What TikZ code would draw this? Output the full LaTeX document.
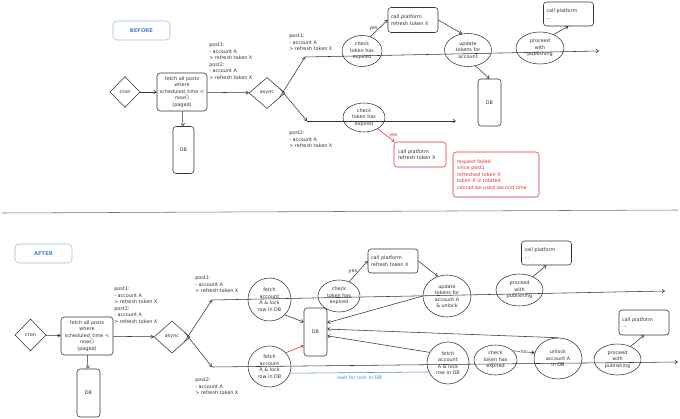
\documentclass[tikz,border=0pt]{standalone}
\usepackage{fontspec}
\setmainfont{DejaVu Sans}
\usetikzlibrary{arrows.meta, positioning, shapes.geometric}
\definecolor{ink}{HTML}{333333}
\definecolor{tagblue}{HTML}{4A7FD0}
\definecolor{tagline}{HTML}{9CBDE6}
\definecolor{errred}{HTML}{E03131}
\definecolor{waitblue}{HTML}{4A8FDB}

\begin{document}
\begin{tikzpicture}[x=1pt, y=-1pt, color=ink, line width=0.55pt,
    every node/.style={font=\fontsize{4.9}{6.5}\selectfont, inner sep=0pt},
    tag/.style={draw=tagline, text=tagblue, rounded corners=4pt, minimum width=57, minimum height=19, font=\fontsize{5.2}{6}\selectfont\bfseries},
    dia/.style={draw, diamond, aspect=1},
    proc/.style={draw, rounded corners=3pt, align=center},
    oval/.style={draw, ellipse, align=center},
    cbox/.style={draw, rounded corners=3pt, align=left, minimum width=50, minimum height=25, text width=44},
    lbl/.style={anchor=north west, align=left},
    arr/.style={-{Straight Barb[length=2.5pt,width=3.5pt]}}]
    \useasboundingbox (0,0) rectangle (680,419);

    \node[tag] (before) at (141.5,30.5) {BEFORE};
    \node[dia, minimum width=30, minimum height=31] (cron1) at (125,92) {cron};
    \node[proc, minimum width=50, minimum height=38] (fetch1) at (182,92) {fetch all posts\\where\\scheduled\_time <\\now()\\(paged)};
    \node[proc, minimum width=21, minimum height=47] (db1) at (183.5,150) {DB};
    \node[lbl] (posts1) at (209,43) {post1:\\- account A\\> refresh token X\\post2:\\- account A\\> refresh token X};
    \node[dia, minimum width=36, minimum height=31] (async1) at (267,93) {async};
    \coordinate (up1) at (305,57);
    \coordinate (upend1) at (599,51);
    \coordinate (down1) at (307,121);
    \coordinate (downend1) at (456,121);
    \node[lbl] (posta1) at (289,34) {post1:\\- account A\\> refresh token X};
    \node[lbl] (postb1) at (289,131) {post2:\\- account A\\> refresh token X};
    \node[oval, minimum width=40, minimum height=31] (check1a) at (362,51) {check\\token has\\expired};
    \node[cbox] (call1a) at (413,20) {call platform\\refresh token X};
    \node[oval, minimum width=47, minimum height=33] (update1) at (468,50) {update\\tokens for\\account};
    \node[proc, minimum width=23, minimum height=47] (db1b) at (489.5,102.5) {DB};
    \node[oval, minimum width=48, minimum height=32] (proceed1) at (540,48) {proceed\\with\\publishing};
    \node[cbox, minimum height=24] (call1b) at (568.5,14) {call platform\\...};
    \node[oval, minimum width=42, minimum height=29] (check1b) at (364,117.5) {check\\token has\\expired};
    \node[cbox, draw=errred, minimum width=52] (call1c) at (420,154.5) {call platform\\refresh token X};
    \node[draw=errred, text=errred, rounded corners=3pt, align=left, minimum width=86, minimum height=45, text width=78] (note1) at (496,174.5) {request failed\\since post1\\refreshed token X\\token X is rotated\\cannot be used second time};

    \draw[arr] (cron1) -- (fetch1);
    \draw[arr] (fetch1) -- (db1);
    \draw[arr] (fetch1) -- (async1);
    \draw[arr] ([shift={(-6pt,-5pt)}]async1.east) -- (up1);
    \draw[arr] (up1) -- (upend1);
    \draw[arr] ([shift={(-6pt,5pt)}]async1.east) -- (down1);
    \draw[arr] (down1) -- (downend1);
    \draw[arr] (check1a.60) -- node[midway, left=1pt] {yes} (call1a.west);
    \draw[arr] (call1a.east) -- (update1.110);
    \draw[arr] (update1.-65) -- (db1b.north);
    \draw[arr] (proceed1.45) -- (call1b.south);
    \draw[arr, errred] (check1b.-40) -- node[pos=0.55, right=2pt] {yes} ([xshift=1pt]call1c.north west);

    \draw[ink!70] (2,213) -- (678,210);

    \node[tag] (after) at (43.5,253.5) {AFTER};
    \node[dia, minimum width=31, minimum height=32] (cron2) at (30.5,335) {cron};
    \node[proc, minimum width=52, minimum height=38] (fetch2) at (87,336) {fetch all posts\\where\\scheduled\_time <\\now()\\(paged)};
    \node[proc, minimum width=23, minimum height=48] (db2) at (88.5,393) {DB};
    \node[lbl] (posts2) at (114,287) {post1:\\- account A\\> refresh token X\\post2:\\- account A\\> refresh token X};
    \node[dia, minimum width=36, minimum height=32] (async2) at (172,337) {async};
    \coordinate (up2) at (212,300);
    \coordinate (upend2) at (665,291);
    \coordinate (down2) at (212,367);
    \coordinate (downend2) at (678,362);
    \node[lbl] (posta2) at (195,276) {post1:\\- account A\\> refresh token X};
    \node[lbl] (postb2) at (195,378) {post2:\\- account A\\> refresh token X};
    \node[oval, minimum width=43, minimum height=43] (lock2a) at (269.5,299.5) {fetch\\account\\A \& lock\\row in DB};
    \node[oval, minimum width=43, minimum height=41] (lock2b) at (269.5,366.5) {fetch\\account\\A \& lock\\row in DB};
    \node[proc, minimum width=23, minimum height=48] (db2b) at (315.5,332) {DB};
    \node[oval, minimum width=42, minimum height=32] (check2a) at (339,296) {check\\token has\\expired};
    \node[cbox, minimum height=24] (call2a) at (393,261) {call platform\\refresh token X};
    \node[oval, minimum width=48, minimum height=42] (update2) at (447,296) {update\\tokens for\\account A\\\& unlock};
    \node[oval, minimum width=47, minimum height=32] (proceed2a) at (519.5,290) {proceed\\with\\publishing};
    \node[cbox, minimum height=24] (call2b) at (546.5,253) {call platform\\...};
    \node[oval, minimum width=42, minimum height=42] (lock2c) at (448,363) {fetch\\account\\A \& lock\\row in DB};
    \node[oval, minimum width=43, minimum height=30] (check2b) at (495.5,360) {check\\token has\\expired};
    \node[oval, minimum width=48, minimum height=41] (unlock2) at (558,358.5) {unlock\\account A\\in DB};
    \node[oval, minimum width=47, minimum height=31] (proceed2b) at (617.5,359.5) {proceed\\with\\publishing};
    \node[cbox] (call2c) at (644,322.5) {call platform\\...};

    \draw[arr] (cron2) -- (fetch2);
    \draw[arr] (fetch2) -- (db2);
    \draw[arr] (fetch2) -- (async2);
    \draw[arr] ([shift={(-6pt,-5pt)}]async2.east) -- (up2);
    \draw[arr] (up2) -- (upend2);
    \draw[arr] ([shift={(-6pt,5pt)}]async2.east) -- (down2);
    \draw[arr] (down2) -- (downend2);
    \draw[arr] (lock2a.-45) -- (db2b.140);
    \draw[arr, errred] (lock2b.40) -- (db2b.-131);
    \draw[arr] (check2a.55) -- node[midway, left=1pt] {yes} (call2a.west);
    \draw[arr] (call2a.east) -- (update2.115);
    \draw[arr] (update2.west) -- (db2b.38);
    \draw[arr] (unlock2.north) -- (db2b.14);
    \draw[arr] (lock2c.150) -- (db2b.-18);
    \draw[waitblue] (lock2b.-18) -- node[midway, below=3pt, text=waitblue] {wait for lock in DB} (lock2c.-155);
    \draw[arr] (check2b.28) -- node[midway, fill=white, inner sep=0.6pt] {no} (unlock2.166);
    \draw[arr] (proceed2a.45) -- (call2b.south);
    \draw[arr] (proceed2b.45) -- (call2c.south);
\end{tikzpicture}
\end{document}
